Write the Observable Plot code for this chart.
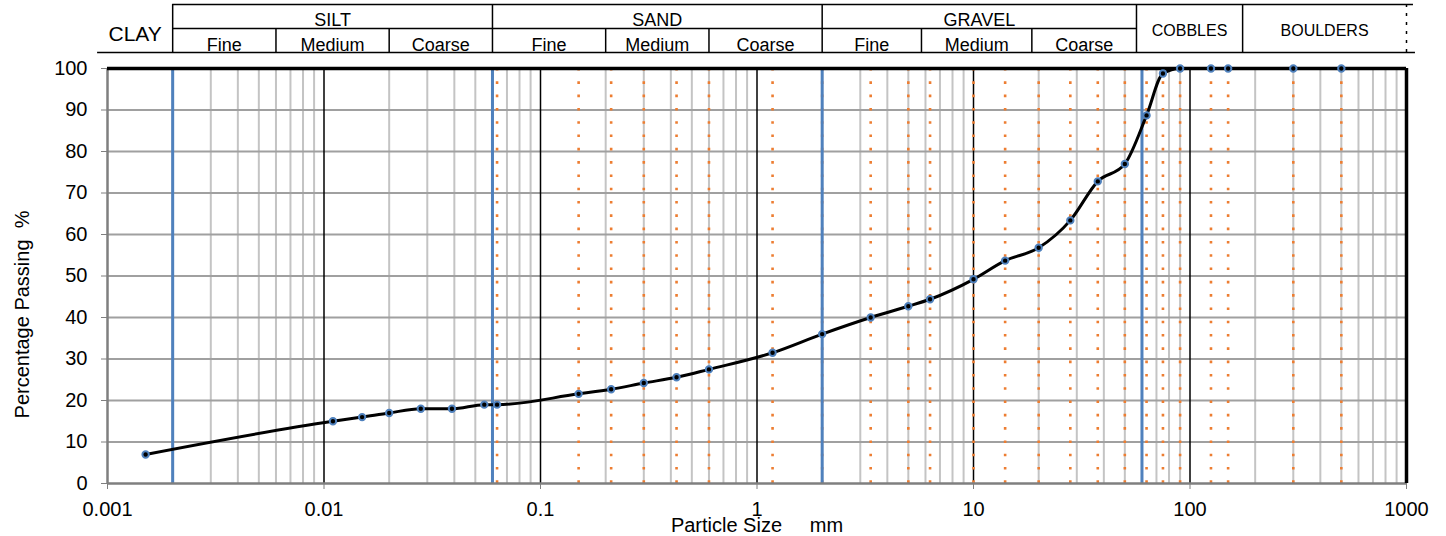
<!DOCTYPE html>
<html><head><meta charset="utf-8">
<script src="https://cdn.jsdelivr.net/npm/d3@7"></script>
<script src="https://cdn.jsdelivr.net/npm/@observablehq/plot@0.6"></script>
<style>
html,body{margin:0;padding:0;background:#fff;}
#chart svg{display:block;}
</style></head><body><div id="chart"></div>
<script>
// ---- data ----
const particleSize = [0.0015, 0.011, 0.015, 0.02, 0.028, 0.039, 0.055, 0.063, 0.15, 0.212, 0.3, 0.425, 0.6, 1.18, 2, 3.35, 5, 6.3, 10, 14, 20, 28, 37.5, 50, 63, 75, 90, 125, 150, 300, 500];
const percentPassing = [7, 15, 16, 17, 18, 18, 19, 19, 21.6, 22.7, 24.2, 25.6, 27.5, 31.5, 36, 40, 42.7, 44.4, 49.2, 53.7, 56.8, 63.4, 72.8, 77, 88.7, 98.8, 100, 100, 100, 100, 100];
const sieveSizes = [0.063, 0.15, 0.212, 0.3, 0.425, 0.6, 1.18, 2, 3.35, 5, 6.3, 10, 14, 20, 28, 37.5, 50, 63, 75, 90, 125, 150, 300, 500];
const boundarySizes = [0.002, 0.06, 2, 60];
const decadeTicks = [0.001, 0.01, 0.1, 1, 10, 100, 1000];
const minorMultipliers = [2, 3, 4, 5, 6, 7, 8, 9];
const yTicks = [0, 10, 20, 30, 40, 50, 60, 70, 80, 90, 100];
const xLabel = "Particle Size\u00a0\u00a0\u00a0\u00a0 mm";
const yLabel = "Percentage Passing\u00a0 %";

// header table (classification)
const groupLabels = ["SILT", "SAND", "GRAVEL"];
const groupEdges = [0.002, 0.06, 2, 56.6];
const subLabels = ["Fine", "Medium", "Coarse"];
const subEdges = [0.002, 0.006, 0.02, 0.06, 0.2, 0.6, 2, 5.75, 18.6, 56.6];
const wideLabels = ["CLAY", "COBBLES", "BOULDERS"];
const wideEdges = [[0.0009, 0.002], [56.6, 175], [175, 1000]];
const headerSpan = [0.0009, 1077, 1100];

// ---- derived tables ----
const curve = particleSize.map((s, i) => ({size: s, pass: percentPassing[i]}));
const minorTicks = decadeTicks.slice(0, -1).flatMap(d => minorMultipliers.map(m => d * m));
const innerDecades = decadeTicks.slice(1, -1);
const groups = groupLabels.map((l, i) => ({label: l, a: groupEdges[i], b: groupEdges[i + 1]}));
const subs = subEdges.slice(0, -1).map((a, i) => ({label: subLabels[i % 3], a, b: subEdges[i + 1]}));
const wides = wideLabels.map((l, i) => ({label: l, a: wideEdges[i][0], b: wideEdges[i][1]}));
const gmid = d => Math.sqrt(d.a * d.b);

const FONT = "Liberation Sans, Arial, Helvetica, sans-serif";
const xScale = {type: "log", domain: [0.001, 1000]};

const header = Plot.plot({
  width: 1446, height: 56, marginLeft: 107, marginRight: 40, marginTop: 4, marginBottom: 4,
  x: {...xScale, axis: null},
  y: {domain: [0, 2], axis: null},
  style: {fontFamily: FONT, color: "#000", background: "#fff"},
  marks: [
    Plot.ruleY([{r: 2, a: groupEdges[0], b: headerSpan[1]}], {y: "r", x1: "a", x2: "b", stroke: "#000", strokeWidth: 1.5}),
    Plot.ruleY([{r: 1, a: groupEdges[0], b: groupEdges[3]}], {y: "r", x1: "a", x2: "b", stroke: "#000", strokeWidth: 1.5}),
    Plot.ruleY([{r: 0, a: headerSpan[0], b: headerSpan[2]}], {y: "r", x1: "a", x2: "b", stroke: "#000", strokeWidth: 1.5}),
    Plot.ruleX([...groupEdges, wideEdges[1][1]], {x: d => d, y1: 0, y2: 2, stroke: "#000", strokeWidth: 1.5}),
    Plot.ruleX(subEdges.filter(e => !groupEdges.includes(e)), {x: d => d, y1: 0, y2: 1, stroke: "#000", strokeWidth: 1.5}),
    Plot.ruleX([wideEdges[2][1]], {x: d => d, y1: 0, y2: 2, stroke: "#000", strokeWidth: 1.5, strokeDasharray: "3,6"}),
    Plot.text(groups, {x: gmid, y: 1.5, text: "label", fontSize: 18, dy: 4}),
    Plot.text(subs, {x: gmid, y: 0.5, text: "label", fontSize: 18, dy: 5}),
    Plot.text([wides[0]], {x: gmid, y: 1, text: "label", fontSize: 21, dy: 6}),
    Plot.text(wides.slice(1), {x: gmid, y: 1, text: "label", fontSize: 16, dy: 2})
  ]
});

const main = Plot.plot({
  width: 1446, height: 480, marginLeft: 107, marginRight: 40, marginTop: 12, marginBottom: 53,
  x: {...xScale},
  y: {domain: [0, 100]},
  style: {fontFamily: FONT, fontSize: "20px", color: "#000", background: "#fff"},
  marks: [
    Plot.ruleX(minorTicks, {x: d => d, stroke: "#c4c4c4", strokeWidth: 2}),
    Plot.ruleY(yTicks.slice(1, -1), {y: d => d, stroke: "#a0a0a0", strokeWidth: 2}),
    Plot.ruleX(innerDecades, {x: d => d, stroke: "#000", strokeWidth: 1.5}),
    Plot.ruleX(sieveSizes, {x: d => d, stroke: "#ed7d31", strokeWidth: 2.6, strokeDasharray: "2.6,10.7"}),
    Plot.ruleX(boundarySizes, {x: d => d, stroke: "#4f81bd", strokeWidth: 3}),
    Plot.ruleY([0], {stroke: "#7f7f7f", strokeWidth: 2.5}),
    Plot.ruleX([0.001], {stroke: "#7f7f7f", strokeWidth: 2.5}),
    Plot.ruleY([100], {stroke: "#000", strokeWidth: 3.5}),
    Plot.ruleX([1000], {stroke: "#000", strokeWidth: 3.5}),
    Plot.axisX({ticks: decadeTicks, tickFormat: d => String(d), tickSize: 6, tickPadding: 12, stroke: "#7f7f7f", color: "#000", label: null}),
    Plot.axisY({ticks: yTicks, tickSize: 6, tickPadding: 14, stroke: "#7f7f7f", color: "#000", label: null}),
    Plot.line(curve, {x: "size", y: "pass", curve: "monotone-x", stroke: "#000", strokeWidth: 3}),
    Plot.dot(curve, {x: "size", y: "pass", r: 3.2, fill: "#000", stroke: "#4f81bd", strokeWidth: 2}),
    Plot.text([yLabel], {text: d => d, frameAnchor: "left", textAnchor: "middle", lineAnchor: "middle", rotate: -90, dx: -85, dy: 38.5, fontSize: 20}),
    Plot.text([xLabel], {text: d => d, frameAnchor: "bottom", textAnchor: "middle", lineAnchor: "middle", dy: 42, fontSize: 20})
  ]
});

const el = document.getElementById("chart");
el.appendChild(header);
el.appendChild(main);
</script></body></html>
